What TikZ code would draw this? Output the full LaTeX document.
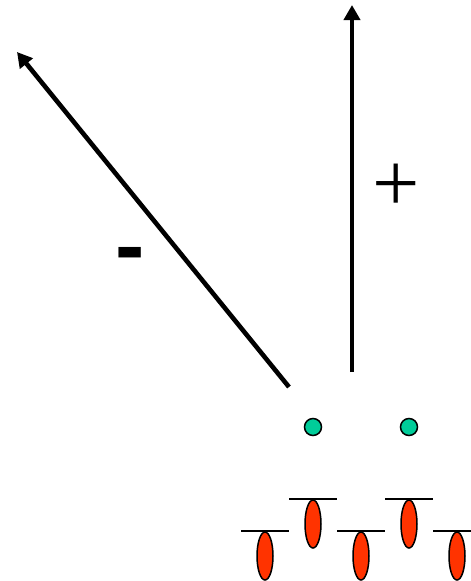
\documentclass[tikz,border=0pt]{standalone}
\usepackage{fontspec}
\setmainfont{Liberation Sans}
\newfontfamily\signfont{Liberation Serif}
\usetikzlibrary{arrows.meta,shapes.geometric}
\definecolor{ionred}{HTML}{FF3300}
\definecolor{iongreen}{HTML}{00CC99}

\begin{document}
\begin{tikzpicture}[x=1pt, y=-1pt, >={Triangle[length=15pt,width=16pt]}, line width=4.6pt]
  \useasboundingbox (0,0) rectangle (471,581);
  \tikzset{
    bead/.style={circle, draw, line width=1.5pt, fill=iongreen, minimum size=17pt, inner sep=0pt},
    drop/.style={ellipse, draw, line width=1.5pt, fill=ionred, minimum width=16pt, minimum height=48pt, inner sep=0pt},
    plate/.style={line width=2pt}
  }
  \coordinate (up0) at (352,372);
  \coordinate (up1) at (352,5);
  \coordinate (dg0) at (289,387);
  \coordinate (dg1) at (17,52);
  \draw[->] (up0) -- (up1);
  \draw[->] (dg0) -- (dg1);
  \node[font=\signfont\fontsize{84}{84}\selectfont] (plus) at (396,188) {+};
  \node[font=\bfseries\fontsize{88}{88}\selectfont] (minus) at (130,261) {-};
  \node[bead] (g1) at (313,427) {};
  \node[bead] (g2) at (409,427) {};
  \node[drop] (r1) at (265,556) {};
  \node[drop] (r2) at (313,524) {};
  \node[drop] (r3) at (361,556) {};
  \node[drop] (r4) at (409,524) {};
  \node[drop] (r5) at (457,556) {};
  \draw[plate] (r1.north) ++(-24,0) -- ++(48,0);
  \draw[plate] (r2.north) ++(-24,0) -- ++(48,0);
  \draw[plate] (r3.north) ++(-24,0) -- ++(48,0);
  \draw[plate] (r4.north) ++(-24,0) -- ++(48,0);
  \draw[plate] (r5.north) ++(-24,0) -- ++(38,0);
\end{tikzpicture}
\end{document}
